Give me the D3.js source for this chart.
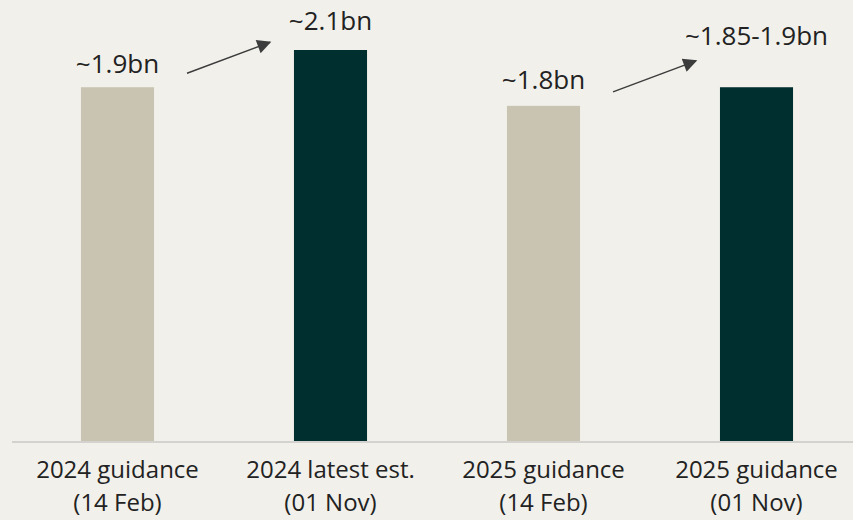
<!DOCTYPE html>
<html>
<head>
<meta charset="utf-8">
<script src="https://cdn.jsdelivr.net/npm/d3@7"></script>
<style>
  html, body { margin: 0; padding: 0; background: #f1f0eb; }
  svg { display: block; }
  text { font-family: "Open Sans", "Noto Sans", sans-serif; fill: #222222; }
</style>
</head>
<body>
<svg id="chart" width="853" height="520"></svg>
<script>
// data
var categories = ["2024 guidance|(14 Feb)", "2024 latest est.|(01 Nov)", "2025 guidance|(14 Feb)", "2025 guidance|(01 Nov)"];
var values = [1.9, 2.1, 1.8, 1.9];
var valueLabels = ["~1.9bn", "~2.1bn", "~1.8bn", "~1.85-1.9bn"];
var kinds = ["guidance", "latest", "guidance", "latest"];

var width = 853
  , height = 520
  , baseY = 441
  , labelLift = [14, 20, 17, 42]   // gap between bar top and value label
  , colorScale = d3.scaleOrdinal().domain(["guidance", "latest"]).range(["#c9c3b1", "#002f2f"]);

var svg = d3.select("#chart");

var x = d3.scaleBand()
  .domain(categories)
  .range([11, 863])
  .paddingInner(0.657)
  .paddingOuter(0.3285);

var y = d3.scaleLinear()
  .domain([0, 2.1])
  .range([baseY, 50]);

// bars
svg.append("g")
    .selectAll("rect")
    .data(categories)
  .enter().append("rect")
    .attr("x", d => x(d))
    .attr("y", (d, i) => y(values[i]))
    .attr("width", x.bandwidth())
    .attr("height", (d, i) => y(0) - y(values[i]))
    .attr("fill", (d, i) => colorScale(kinds[i]));

// baseline
svg.append("line")
    .attr("x1", 12).attr("x2", width)
    .attr("y1", baseY + 1).attr("y2", baseY + 1)
    .attr("stroke", "#c8c8c6")
    .attr("stroke-width", 1.5);

// value labels
svg.append("g")
    .selectAll("text")
    .data(categories)
  .enter().append("text")
    .attr("x", d => x(d) + x.bandwidth() / 2)
    .attr("y", (d, i) => y(values[i]) - labelLift[i])
    .attr("text-anchor", "middle")
    .style("font-size", "26px")
    .text((d, i) => valueLabels[i]);

// category labels (two lines)
var catText = svg.append("g")
    .selectAll("text")
    .data(categories)
  .enter().append("text")
    .attr("text-anchor", "middle")
    .style("font-size", "24px");
catText.selectAll("tspan")
    .data(d => d.split("|").map(s => ({ s: s, cx: x(d) + x.bandwidth() / 2 })))
  .enter().append("tspan")
    .attr("x", t => t.cx)
    .attr("y", (t, j) => baseY + 37 + j * 33)
    .text(t => t.s);

// arrows from guidance to latest
svg.append("defs").append("marker")
    .attr("id", "arrowhead")
    .attr("viewBox", "0 0 10 10")
    .attr("refX", 9).attr("refY", 5)
    .attr("markerWidth", 17).attr("markerHeight", 14)
    .attr("markerUnits", "userSpaceOnUse")
    .attr("orient", "auto")
  .append("path")
    .attr("d", "M0,0 L10,5 L0,10 Z")
    .attr("fill", "#3c3c3c");

var pairs = [[0, 1], [2, 3]];
svg.append("g")
    .selectAll("line")
    .data(pairs)
  .enter().append("line")
    .attr("x1", p => x(categories[p[0]]) + x.bandwidth() + 33)
    .attr("y1", p => y(values[p[0]]) - 14)
    .attr("x2", p => x(categories[p[1]]) - 24)
    .attr("y2", p => y(values[p[0]]) - 45)
    .attr("stroke", "#3c3c3c")
    .attr("stroke-width", 1.5)
    .attr("marker-end", "url(#arrowhead)");
</script>
</body>
</html>
